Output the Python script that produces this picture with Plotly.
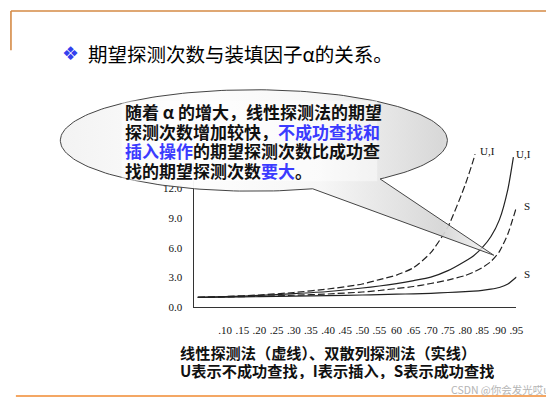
import numpy as np
import plotly.graph_objects as go

W, H = 554, 398

# ---- data ----
alpha = [0.02, 0.10, 0.20, 0.30, 0.40, 0.50, 0.55, 0.60, 0.65, 0.70, 0.75,
         0.80, 0.825, 0.85, 0.875, 0.90, 0.925, 0.95]
linear_unsucc = [1.0, 1.1, 1.25, 1.5, 1.85, 2.35, 2.8, 3.25, 4.0, 5.5, 8.1,
                 12.3, 14.9, None, None, None, None, None]
double_unsucc = [1.0, 1.08, 1.2, 1.38, 1.6, 1.95, 2.15, 2.4, 2.7, 3.05, 3.7,
                 4.65, 5.2, 6.0, 7.1, 8.8, 11.9, None]
linear_succ = [1.0, 1.05, 1.12, 1.22, 1.35, 1.55, 1.7, 1.9, 2.1, 2.4, 2.75,
               3.2, 3.55, 4.0, 4.6, 5.6, 7.4, 10.1]
double_succ = [1.0, 1.03, 1.08, 1.13, 1.19, 1.25, 1.29, 1.33, 1.37, 1.42, 1.5,
               1.58, 1.64, 1.72, 1.83, 2.0, 2.35, 3.05]
# end points of curves that stop before the last grid value
linear_unsucc_end = (0.829, 15.4)
double_unsucc_end = (0.941, 15.1)

x_tickvals = [0.10, 0.15, 0.20, 0.25, 0.30, 0.35, 0.40, 0.45, 0.50, 0.55, 0.60,
              0.65, 0.70, 0.75, 0.80, 0.85, 0.90, 0.95]
x_ticktext = [".10", ".15", ".20", ".25", ".30", ".35", ".40", ".45", ".50", ".55", "60",
              ".65", ".70", ".75", ".80", ".85", ".90", ".95"]
y_tickvals = [0, 3, 6, 9, 12]
y_ticktext = ["0.0", "3.0", "6.0", "9.0", "12.0"]

title_text = "期望探测次数与装填因子α的关系。"
bubble_lines = [
    "随着 α 的增大，线性探测法的期望",
    "探测次数增加较快，<span style='color:#3b3bff'>不成功查找和</span>",
    "<span style='color:#3b3bff'>插入操作</span>的期望探测次数比成功查",
    "找的期望探测次数<span style='color:#3b3bff'>要大</span>。",
]
caption_lines = [
    "线性探测法（虚线）、双散列探测法（实线）",
    "U表示不成功查找，I表示插入，S表示成功查找",
]
watermark = "CSDN @你会发光哎u"


def trim(xs, ys, end):
    px = [a for a, v in zip(xs, ys) if v is not None]
    py = [v for v in ys if v is not None]
    if end is not None:
        px.append(end[0]); py.append(end[1])
    return px, py


fig = go.Figure()
line_col = "#222222"
for ys, dash, end in [
    (linear_unsucc, "7px,3px", linear_unsucc_end),
    (double_unsucc, "solid", double_unsucc_end),
    (linear_succ, "7px,3px", None),
    (double_succ, "solid", None),
]:
    px, py = trim(alpha, ys, end)
    fig.add_trace(go.Scatter(x=px, y=py, mode="lines",
                             line=dict(color=line_col, width=1.2, dash=dash, shape="spline", smoothing=0.6),
                             hoverinfo="skip", showlegend=False, xaxis="x", yaxis="y"))

# ---- speech bubble (pixel coordinates on overlay axes) ----
cx, cy, rx, ry = 249, 134.5, 196, 51.5
tA = np.deg2rad(72.3)
tB = np.deg2rad(49.3) + 2 * np.pi
t = np.linspace(tA, tB, 200)
bx = list(cx + rx * np.cos(t))
by = list(cy + ry * np.sin(t))
bx += [492, cx + rx * np.cos(tA)]
by += [251, cy + ry * np.sin(tA)]
fig.add_trace(go.Scatter(
    x=bx, y=by, mode="lines", fill="toself",
    line=dict(color="#444444", width=1),
    fillgradient=dict(type="horizontal", colorscale=[
        [0.0, "rgba(242,242,242,0.95)"],
        [0.3, "rgba(253,253,253,0.95)"],
        [0.6, "rgba(246,246,246,0.95)"],
        [0.88, "rgba(214,214,214,0.95)"],
        [1.0, "rgba(240,240,240,0.75)"],
    ]),
    hoverinfo="skip", showlegend=False, xaxis="x2", yaxis="y2"))

shapes = [
    # text box behind bubble text
    dict(type="rect", xref="x2", yref="y2", x0=115, x1=374, y0=94, y1=176,
         fillcolor="rgba(255,255,255,0.45)", line=dict(width=0), layer="above"),
    # slide frame lines
    dict(type="line", xref="x2", yref="y2", x0=3, x1=546, y0=3, y1=3,
         line=dict(color="#d58a45", width=1.6), layer="above"),
    dict(type="line", xref="x2", yref="y2", x0=3, x1=3, y0=3, y1=43,
         line=dict(color="#d58a45", width=1.6), layer="above"),
    dict(type="line", xref="x2", yref="y2", x0=8, x1=554, y0=394, y1=394,
         line=dict(color="#f08a30", width=1.6), layer="above"),
]

cjk = "Noto Sans CJK SC"
ann = []
ann.append(dict(x=63, y=46, text="❖", font=dict(family="DejaVu Sans", size=19, color="#3340ee"),
                xanchor="center", yanchor="middle"))
ann.append(dict(x=79, y=46, text=title_text, font=dict(family=cjk, size=19.5, color="#000000"),
                xanchor="left", yanchor="middle"))
for i, ln in enumerate(bubble_lines):
    ann.append(dict(x=116, y=105 + 20 * i, text="<b>" + ln + "</b>",
                    font=dict(family=cjk, size=17, color="#111111"), height=19,
                    xanchor="left", yanchor="middle"))
for i, ln in enumerate(caption_lines):
    ann.append(dict(x=172, y=349 + 19 * i, text="<b>" + ln + "</b>",
                    font=dict(family=cjk, size=15.2, color="#111111"), height=18,
                    xanchor="left", yanchor="middle"))
ann.append(dict(x=551, y=387, text=watermark, font=dict(family=cjk, size=10.5, color="#b4b4b4"),
                xanchor="right", yanchor="middle"))
# curve labels
for lx, ly, txt in [(476, 145, "U,I"), (512, 148, "U,I"), (521, 201, "S"), (521, 270, "S")]:
    ann.append(dict(x=lx, y=ly, text=txt, font=dict(family="Liberation Serif", size=11, color="#111111"),
                    xanchor="left", yanchor="middle"))
for a in ann:
    a.update(xref="x2", yref="y2", showarrow=False)

tickfont = dict(family="Liberation Serif", size=11, color="#111111")
fig.update_layout(
    width=W, height=H, margin=dict(l=0, r=0, t=0, b=0),
    paper_bgcolor="white", plot_bgcolor="rgba(0,0,0,0)",
    showlegend=False,
    xaxis=dict(domain=[188 / W, 515 / W], range=[0.0078, 0.95],
               tickvals=x_tickvals, ticktext=x_ticktext, tickfont=tickfont,
               showgrid=False, zeroline=False, showline=True, linecolor="#333333", linewidth=1.3,
               ticks="", ticklabelstandoff=12, fixedrange=True),
    yaxis=dict(domain=[1 - 304 / H, 1 - 146.4 / H], range=[0, 15.6],
               tickvals=y_tickvals, ticktext=y_ticktext, tickfont=tickfont,
               showgrid=False, zeroline=False, showline=True, linecolor="#333333", linewidth=1.3,
               ticks="", ticklabelstandoff=8, fixedrange=True),
    xaxis2=dict(domain=[0, 1], range=[0, W], visible=False, fixedrange=True),
    yaxis2=dict(domain=[0, 1], range=[H, 0], visible=False, fixedrange=True),
    shapes=shapes, annotations=ann,
)

fig.write_html("out.html")
